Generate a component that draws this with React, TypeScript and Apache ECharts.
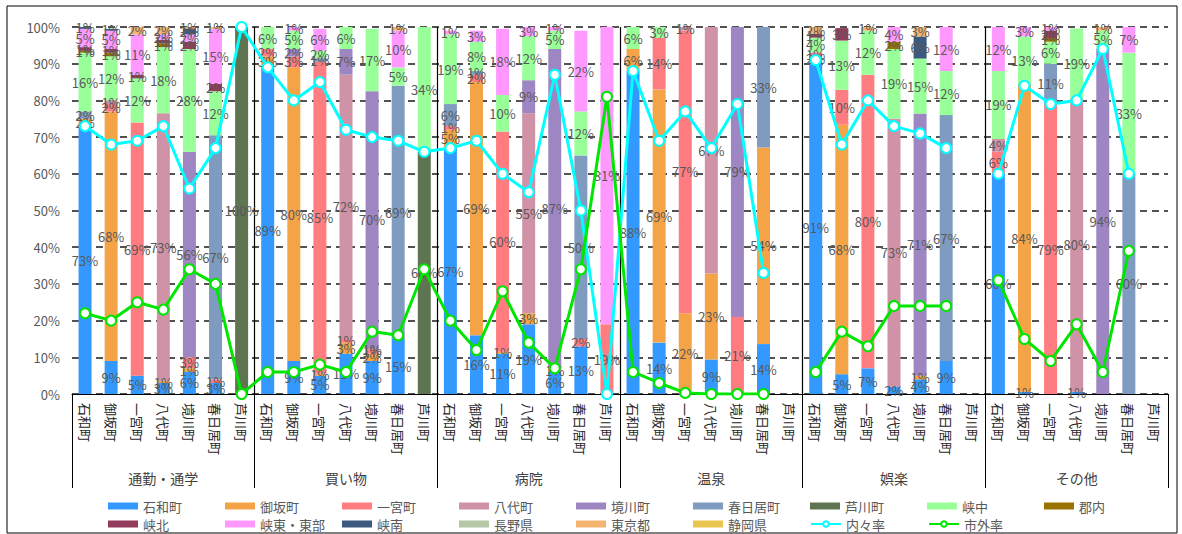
import React, { useEffect, useRef } from "react";
import * as echarts from "echarts";

// ---- categories ----
const purposes = ["通勤・通学", "買い物", "病院", "温泉", "娯楽", "その他"];
const towns = ["石和町", "御坂町", "一宮町", "八代町", "境川町", "春日居町", "芦川町"];
const yTicks = [0, 10, 20, 30, 40, 50, 60, 70, 80, 90, 100];

// ---- stacked series values (%), 6 purposes x 7 towns ----
// order within each purpose: 石和町, 御坂町, 一宮町, 八代町, 境川町, 春日居町, 芦川町
const vIsawa = [
  73, 9, 5, 3, 6, 3, 0,
  89, 9, 5, 11, 9, 15, 0,
  67, 16, 11, 19, 6, 13, 0,
  88, 14, 0, 9.4, 0, 13.6, 0,
  90.6, 5.4, 7, 2, 4, 9, 0,
  60, 0.6, 0, 0.6, 0, 0, 0,
];
const vMisaka = [
  2, 68, 0, 0.5, 1, 0, 0,
  3, 80, 0.5, 3, 2, 0, 0,
  5, 69, 0.5, 3, 0, 0, 0,
  6, 69, 22, 23.4, 0, 53.6, 0,
  1.5, 68, 0, 0, 1, 0, 0,
  0, 83.8, 0, 0, 0, 0, 0,
];
const vIchinomiya = [
  0, 2, 69, 0, 3, 1, 0,
  2, 3, 85, 1, 1, 0, 0,
  1, 2, 60, 0, 1, 2, 19,
  0, 14, 77, 0, 21, 0, 0,
  1, 9.5, 80, 0, 0, 0, 0,
  6, 0, 79, 0, 0, 0, 0,
];
const vYatsushiro = [
  0, 1, 0, 73, 0, 0, 0,
  0, 0, 0, 72, 0.5, 0, 0,
  0, 0, 0, 54.5, 0, 0, 0,
  0, 0, 1, 67.2, 0, 0, 0,
  0, 0, 0, 73, 0, 0, 0,
  3.5, 0, 0, 80, 0, 0, 0,
];
const vSakaigawa = [
  0, 0, 0, 0, 56, 0, 0,
  0, 2, 0, 7, 70, 0, 0,
  0, 0, 0, 9, 87, 0, 0,
  0, 0, 0, 0, 79, 0, 0,
  0, 0, 0, 0, 71.4, 0, 0,
  0, 0, 0, 0, 94, 0, 0,
];
const vKasugai = [
  2, 0, 0, 0, 0, 66.5, 0,
  0, 0, 1, 0, 0, 69, 0,
  6, 1, 0, 0, 0, 50, 0,
  0, 0, 0, 0, 0, 32.8, 0,
  0, 0, 0, 0, 0, 67, 0,
  0, 0, 11, 0, 0, 60, 0,
];
const vAshigawa = [
  0, 0, 0, 0, 0, 0, 100,
  0, 0, 0, 0, 0, 0, 66,
  0, 0, 0, 0, 0, 0, 0,
  0, 0, 0, 0, 0, 0, 0,
  0, 0, 0, 0, 0, 0, 0,
  0, 0, 0, 0, 0, 0, 0,
];
const vKyochu = [
  16, 12, 12, 18, 28, 12, 0,
  6, 5, 2, 6, 17, 5, 34,
  19, 8, 10, 12, 5, 12, 0,
  6, 3, 0, 0, 0, 0, 0,
  4, 13.4, 12, 19, 15, 12, 0,
  18.5, 13, 6, 19, 5, 33, 0,
];
const vGunnai = [
  0.5, 1, 0, 1, 0, 0, 0,
  0, 0, 0, 0, 0, 0, 0,
  0, 0, 0, 0, 0, 0, 0,
  0, 0, 0, 0, 0, 0, 0,
  0, 0, 0, 2, 0, 0, 0,
  0, 0, 1, 0, 0, 0, 0,
];
const vKyohoku = [
  1, 1, 1, 1, 2, 2, 0,
  0, 0, 0, 0, 0, 0, 0,
  0, 0, 0, 0, 0, 0, 0,
  0, 0, 0, 0, 0, 0, 0,
  1, 3.4, 0, 0, 0, 0, 0,
  0, 0, 2, 0, 0, 0, 0,
];
const vKyoto = [
  5, 5, 11, 1.5, 2, 15, 0,
  0, 1, 6, 0, 0, 10, 0,
  1, 3, 18, 3, 1, 22, 81,
  0, 0, 0, 0, 0, 0, 0,
  0, 0, 0, 4, 0, 12, 0,
  12, 3, 1, 0, 0, 7, 0,
];
const vKyonan = [
  0.5, 0.5, 0, 0, 1.5, 0, 0,
  0, 0, 0, 0, 0, 0, 0,
  0, 0, 0, 0, 0, 0, 0,
  0, 0, 0, 0, 0, 0, 0,
  0, 0, 0, 0, 6, 0, 0,
  0, 0, 0, 0, 0, 0, 0,
];
const vNagano = [
  0, 0, 0, 0, 0, 0, 0,
  0, 0, 0, 0, 0, 0, 0,
  0, 0, 0, 0, 0, 0, 0,
  0, 0, 0, 0, 0, 0, 0,
  0, 0, 0, 0, 0, 0, 0,
  0, 0, 0, 0, 0, 0, 0,
];
const vTokyo = [
  0, 0, 2, 2, 1, 1, 0,
  0, 0, 0, 0, 0, 1, 0,
  0, 0, 0, 0, 0, 0, 0,
  0, 0, 0, 0, 0, 0, 0,
  2, 0, 1, 0, 3, 0, 0,
  0, 0, 0, 0, 1, 0, 0,
];
const vShizuoka = [
  0, 0, 0, 0, 0, 0, 0,
  0, 0, 0, 0, 0, 0, 0,
  0, 0, 0, 0, 0, 0, 0,
  0, 0, 0, 0, 0, 0, 0,
  0, 0, 0, 0, 0, 0, 0,
  0, 0, 0, 0, 0, 0, 0,
];

// ---- line series (%) ----
const naiNaiRate = [
  73, 68, 69, 73, 56, 67, 100,
  89, 80, 85, 72, 70, 69, 66,
  67, 69, 60, 55, 87, 50, 0,
  88, 69, 77, 67, 79, 33, null,
  91, 68, 80, 73, 71, 67, null,
  60, 84, 79, 80, 94, 60, null,
];
const shigaiRate = [
  22, 20, 25, 23, 34, 30, 0,
  6, 6, 8, 6, 17, 16, 34,
  20, 12, 28, 14, 7, 34, 81,
  6, 3, 0.3, 0, 0, 0, null,
  6, 17, 13, 24, 24, 24, null,
  31, 15, 9, 19, 6, 39, null,
];

const barNames = [
  "石和町", "御坂町", "一宮町", "八代町", "境川町", "春日居町", "芦川町",
  "峡中", "郡内", "峡北", "峡東・東部", "峡南", "長野県", "東京都", "静岡県",
];
const barValues = [
  vIsawa, vMisaka, vIchinomiya, vYatsushiro, vSakaigawa, vKasugai, vAshigawa,
  vKyochu, vGunnai, vKyohoku, vKyoto, vKyonan, vNagano, vTokyo, vShizuoka,
];
const barColors = [
  "#3399FF", "#F4A447", "#FF7C80", "#D092A7", "#9E86C2", "#7F9CC0", "#5F7450",
  "#99FF99", "#997300", "#953B5B", "#FF99FF", "#3C5A80", "#B5C7A5", "#F4B470", "#E9C54E",
];
const lineNames = ["内々率", "市外率"];
const lineColors = ["#00FFFF", "#00E600"];

const FONT = "'Noto Sans CJK JP', 'Noto Sans', sans-serif";

export default function App() {
  const ref = useRef<HTMLDivElement>(null);

  useEffect(() => {
    document.body.style.margin = "0";
    if (!ref.current) return;
    const chart = echarts.init(ref.current, null, { renderer: "svg" });

    const categories = purposes.flatMap(() => towns);

    const barSeries = barNames.map((name, i) => ({
      name,
      type: "bar",
      stack: "total",
      barWidth: 13,
      xAxisIndex: 0,
      yAxisIndex: 0,
      data: barValues[i],
      itemStyle: { color: barColors[i] },
      label: {
        show: true,
        position: "inside",
        color: "#595959",
        fontSize: 13,
        fontFamily: FONT,
        textBorderWidth: 0,
        formatter: (p: any) => (p.value > 0 ? Math.round(p.value) + "%" : ""),
      },
      labelLayout: { hideOverlap: false },
      z: 2,
    }));

    const lineData = [naiNaiRate, shigaiRate];
    const lineSeries = lineNames.map((name, i) => ({
      name,
      type: "line",
      xAxisIndex: 0,
      yAxisIndex: 0,
      data: lineData[i],
      connectNulls: false,
      color: lineColors[i],
      symbol: "circle",
      symbolSize: 10,
      showAllSymbol: true,
      lineStyle: { color: lineColors[i], width: 3 },
      itemStyle: { color: "#ffffff", borderColor: lineColors[i], borderWidth: 2 },
      z: 5,
    }));

    const legendText = {
      color: "#595959",
      fontSize: 13,
      fontFamily: FONT,
      width: 72,
      lineHeight: 14,
      overflow: "truncate",
    };

    const allNames = [...barNames, ...lineNames];
    const legendItem = (n: string) =>
      barNames.includes(n) ? { name: n, icon: "rect" } : { name: n };

    chart.setOption({
      animation: false,
      textStyle: { fontFamily: FONT },
      grid: { left: 72, right: 14, top: 27, bottom: 140, containLabel: false },
      graphic: [
        {
          type: "rect",
          shape: { x: 7, y: 6, width: 1170, height: 527 },
          style: { fill: "none", stroke: "#000", lineWidth: 1 },
          silent: true,
          z: 100,
        },
      ],
      legend: [
        {
          data: allNames.slice(0, 9).map(legendItem),
          left: 108,
          top: 499,
          padding: 0,
          itemWidth: 30,
          itemHeight: 7,
          itemGap: 10,
          textStyle: legendText,
          selectedMode: false,
        },
        {
          data: allNames.slice(9).map(legendItem),
          left: 108,
          top: 517,
          padding: 0,
          itemWidth: 30,
          itemHeight: 7,
          itemGap: 10,
          textStyle: legendText,
          selectedMode: false,
        },
      ],
      xAxis: [
        {
          type: "category",
          data: categories,
          position: "bottom",
          axisLine: { show: true, lineStyle: { color: "#000", width: 1 } },
          axisTick: { show: false },
          axisLabel: {
            interval: 0,
            rotate: -90,
            margin: 9,
            fontSize: 13,
            color: "#262626",
            fontFamily: FONT,
          },
          splitLine: { show: false },
        },
        {
          type: "category",
          data: purposes,
          position: "bottom",
          axisLine: { show: false },
          axisTick: {
            show: true,
            interval: 0,
            length: 94,
            lineStyle: { color: "#000", width: 1 },
          },
          axisLabel: {
            interval: 0,
            margin: 77,
            fontSize: 14,
            color: "#404040",
            fontFamily: FONT,
          },
          splitLine: {
            show: true,
            interval: 0,
            showMinLine: false,
            showMaxLine: false,
            lineStyle: { color: "#000", width: 1.2, type: "solid" },
          },
        },
      ],
      yAxis: {
        type: "value",
        min: yTicks[0],
        max: yTicks[yTicks.length - 1],
        interval: 10,
        axisLine: { show: false },
        axisTick: { show: false },
        axisLabel: {
          formatter: "{value}%",
          color: "#595959",
          fontSize: 13,
          margin: 12,
          fontFamily: FONT,
        },
        splitLine: {
          show: true,
          lineStyle: { color: "#1a1a1a", width: 1.5, type: [7, 5] },
        },
      },
      series: [...barSeries, ...lineSeries],
    });

    return () => chart.dispose();
  }, []);

  return <div ref={ref} style={{ width: 1182, height: 534 }} />;
}
